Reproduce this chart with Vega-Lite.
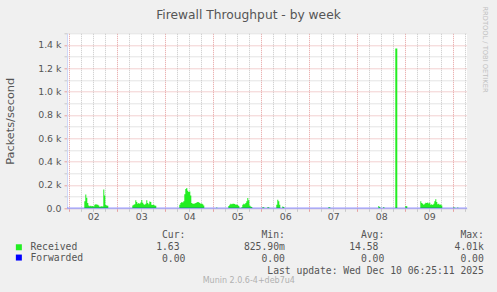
{
  "$schema": "https://vega.github.io/schema/vega-lite/v6.json",
  "background": "#f0f0f0",
  "autosize": {"type": "none"},
  "width": 400,
  "height": 175,
  "padding": {"left": 67, "top": 33.3, "right": 30, "bottom": 83.7},
  "title": {"text": "Munin 2.0.6-4+deb7u4", "orient": "bottom", "anchor": "middle", "frame": "group", "dx": -18.2, "offset": 2, "font": "DejaVu Sans", "fontSize": 8, "fontWeight": "normal", "color": "#b0b0b0"},
  "config": {"view": {"stroke": null, "fill": "#ffffff"}, "font": "DejaVu Sans"},
  "resolve": {"axis": {"x": "independent", "y": "independent"}},
  "datasets": {
    "series": [
      {"s":"Received","h":-1.5,"v":1.5},
      {"s":"Received","h":7.5,"v":60},
      {"s":"Received","h":8,"v":118},
      {"s":"Received","h":8.5,"v":90},
      {"s":"Received","h":9,"v":45},
      {"s":"Received","h":9.5,"v":25},
      {"s":"Received","h":10,"v":18},
      {"s":"Received","h":10.5,"v":22},
      {"s":"Received","h":11,"v":17},
      {"s":"Received","h":11.5,"v":20},
      {"s":"Received","h":12,"v":15},
      {"s":"Received","h":12.5,"v":30},
      {"s":"Received","h":13,"v":35},
      {"s":"Received","h":13.5,"v":33},
      {"s":"Received","h":14,"v":30},
      {"s":"Received","h":14.5,"v":25},
      {"s":"Received","h":15,"v":14},
      {"s":"Received","h":15.5,"v":16},
      {"s":"Received","h":16,"v":18},
      {"s":"Received","h":16.5,"v":15},
      {"s":"Received","h":17,"v":161},
      {"s":"Received","h":17.5,"v":110},
      {"s":"Received","h":18,"v":28},
      {"s":"Received","h":18.5,"v":24},
      {"s":"Received","h":19,"v":22},
      {"s":"Received","h":19.5,"v":1.5},
      {"s":"Received","h":31.5,"v":25},
      {"s":"Received","h":32,"v":30},
      {"s":"Received","h":32.5,"v":35},
      {"s":"Received","h":33,"v":70},
      {"s":"Received","h":33.5,"v":55},
      {"s":"Received","h":34,"v":40},
      {"s":"Received","h":34.5,"v":45},
      {"s":"Received","h":35,"v":38},
      {"s":"Received","h":35.5,"v":50},
      {"s":"Received","h":36,"v":72},
      {"s":"Received","h":36.5,"v":48},
      {"s":"Received","h":37,"v":35},
      {"s":"Received","h":37.5,"v":30},
      {"s":"Received","h":38,"v":40},
      {"s":"Received","h":38.5,"v":68},
      {"s":"Received","h":39,"v":45},
      {"s":"Received","h":39.5,"v":35},
      {"s":"Received","h":40,"v":58},
      {"s":"Received","h":40.5,"v":55},
      {"s":"Received","h":41,"v":30},
      {"s":"Received","h":41.5,"v":28},
      {"s":"Received","h":42,"v":30},
      {"s":"Received","h":42.5,"v":25},
      {"s":"Received","h":43,"v":22},
      {"s":"Received","h":43.5,"v":1.5},
      {"s":"Received","h":55,"v":30},
      {"s":"Received","h":55.5,"v":45},
      {"s":"Received","h":56,"v":55},
      {"s":"Received","h":56.5,"v":50},
      {"s":"Received","h":57,"v":60},
      {"s":"Received","h":57.5,"v":120},
      {"s":"Received","h":58,"v":165},
      {"s":"Received","h":58.5,"v":175},
      {"s":"Received","h":59,"v":150},
      {"s":"Received","h":59.5,"v":140},
      {"s":"Received","h":60,"v":145},
      {"s":"Received","h":60.5,"v":110},
      {"s":"Received","h":61,"v":45},
      {"s":"Received","h":61.5,"v":40},
      {"s":"Received","h":62,"v":38},
      {"s":"Received","h":62.5,"v":42},
      {"s":"Received","h":63,"v":45},
      {"s":"Received","h":63.5,"v":50},
      {"s":"Received","h":64,"v":55},
      {"s":"Received","h":64.5,"v":52},
      {"s":"Received","h":65,"v":45},
      {"s":"Received","h":65.5,"v":40},
      {"s":"Received","h":66,"v":42},
      {"s":"Received","h":66.5,"v":35},
      {"s":"Received","h":67,"v":25},
      {"s":"Received","h":67.5,"v":1.5},
      {"s":"Received","h":73.5,"v":6},
      {"s":"Received","h":74,"v":1.5},
      {"s":"Received","h":79.5,"v":20},
      {"s":"Received","h":80,"v":30},
      {"s":"Received","h":80.5,"v":38},
      {"s":"Received","h":81,"v":35},
      {"s":"Received","h":81.5,"v":40},
      {"s":"Received","h":82,"v":38},
      {"s":"Received","h":82.5,"v":36},
      {"s":"Received","h":83,"v":30},
      {"s":"Received","h":83.5,"v":32},
      {"s":"Received","h":84,"v":28},
      {"s":"Received","h":84.5,"v":20},
      {"s":"Received","h":85,"v":5},
      {"s":"Received","h":85.5,"v":3},
      {"s":"Received","h":86,"v":10},
      {"s":"Received","h":86.5,"v":30},
      {"s":"Received","h":87,"v":40},
      {"s":"Received","h":87.5,"v":35},
      {"s":"Received","h":88,"v":45},
      {"s":"Received","h":88.5,"v":60},
      {"s":"Received","h":89,"v":88},
      {"s":"Received","h":89.5,"v":70},
      {"s":"Received","h":90,"v":25},
      {"s":"Received","h":90.5,"v":15},
      {"s":"Received","h":91,"v":12},
      {"s":"Received","h":91.5,"v":1.5},
      {"s":"Received","h":96.5,"v":8},
      {"s":"Received","h":97,"v":10},
      {"s":"Received","h":97.5,"v":1.5},
      {"s":"Received","h":99,"v":8},
      {"s":"Received","h":99.5,"v":10},
      {"s":"Received","h":100,"v":1.5},
      {"s":"Received","h":103.5,"v":30},
      {"s":"Received","h":104,"v":73},
      {"s":"Received","h":104.5,"v":60},
      {"s":"Received","h":105,"v":30},
      {"s":"Received","h":105.5,"v":1.5},
      {"s":"Received","h":106.5,"v":15},
      {"s":"Received","h":107,"v":12},
      {"s":"Received","h":107.5,"v":1.5},
      {"s":"Received","h":129.5,"v":10},
      {"s":"Received","h":130,"v":8},
      {"s":"Received","h":130.5,"v":1.5},
      {"s":"Received","h":154.5,"v":19},
      {"s":"Received","h":155,"v":12},
      {"s":"Received","h":155.5,"v":1.5},
      {"s":"Received","h":157,"v":12},
      {"s":"Received","h":157.5,"v":1.5},
      {"s":"Received","h":163,"v":1370},
      {"s":"Received","h":163.5,"v":1370},
      {"s":"Received","h":164,"v":1.5},
      {"s":"Received","h":168,"v":20},
      {"s":"Received","h":168.5,"v":18},
      {"s":"Received","h":169,"v":1.5},
      {"s":"Received","h":175.5,"v":60},
      {"s":"Received","h":176,"v":45},
      {"s":"Received","h":176.5,"v":40},
      {"s":"Received","h":177,"v":30},
      {"s":"Received","h":177.5,"v":38},
      {"s":"Received","h":178,"v":48},
      {"s":"Received","h":178.5,"v":45},
      {"s":"Received","h":179,"v":50},
      {"s":"Received","h":179.5,"v":42},
      {"s":"Received","h":180,"v":48},
      {"s":"Received","h":180.5,"v":30},
      {"s":"Received","h":181,"v":35},
      {"s":"Received","h":181.5,"v":28},
      {"s":"Received","h":182,"v":40},
      {"s":"Received","h":182.5,"v":60},
      {"s":"Received","h":183,"v":78},
      {"s":"Received","h":183.5,"v":55},
      {"s":"Received","h":184,"v":35},
      {"s":"Received","h":184.5,"v":38},
      {"s":"Received","h":185,"v":30},
      {"s":"Received","h":185.5,"v":32},
      {"s":"Received","h":186,"v":25},
      {"s":"Received","h":186.5,"v":1.5},
      {"s":"Received","h":192,"v":8},
      {"s":"Received","h":192.5,"v":5},
      {"s":"Received","h":193,"v":1.5},
      {"s":"Received","h":194,"v":6},
      {"s":"Received","h":194.5,"v":1.5},
      {"s":"Received","h":198.5,"v":1.63},
      {"s":"Received","h":199,"v":1.63},
      {"s":"Forwarded","h":-1.5,"v":0},
      {"s":"Forwarded","h":199,"v":0}
    ]
  },
  "data": {"name": "series"},
  "layer": [
    {
      "transform": [{"filter": "datum.s === 'Received'"}],
      "mark": {"type": "area", "interpolate": "step-after", "clip": true, "opacity": 1},
      "encoding": {
        "x": {
          "field": "h", "type": "quantitative",
          "scale": {"domain": [-1.15, 198.85], "nice": false, "zero": false},
          "axis": {
            "orient": "bottom",
            "values": [0, 6, 12, 18, 24, 30, 36, 42, 48, 54, 60, 66, 72, 78, 84, 90, 96, 102, 108, 114, 120, 126, 132, 138, 144, 150, 156, 162, 168, 174, 180, 186, 192, 198],
            "labelExpr": "datum.value % 24 === 12 ? '0' + (2 + floor(datum.value / 24)) : ''",
            "labelOverlap": false, "labelFlush": false, "labelBound": false,
            "labelFont": "DejaVu Sans", "labelFontSize": 9.4, "labelColor": "#555555", "labelPadding": 1,
            "grid": true,
            "gridColor": {"condition": {"test": "datum.value % 24 === 0", "value": "#e6a0a0"}, "value": "#c8c8c8"},
            "gridDash": [1, 1],
            "tickColor": {"condition": {"test": "datum.value % 24 === 0", "value": "#e6a0a0"}, "value": "#c8c8c8"},
            "tickSize": 3,
            "domainColor": "#cfd6f8",
            "title": [
              "Cur:\u00a0\u00a0\u00a0\u00a0\u00a0\u00a0\u00a0\u00a0\u00a0\u00a0\u00a0\u00a0\u00a0Min:\u00a0\u00a0\u00a0\u00a0\u00a0\u00a0\u00a0\u00a0\u00a0\u00a0\u00a0\u00a0\u00a0Avg:\u00a0\u00a0\u00a0\u00a0\u00a0\u00a0\u00a0\u00a0\u00a0\u00a0\u00a0\u00a0\u00a0Max:\u00a0\u00a0",
              "1.63\u00a0\u00a0\u00a0\u00a0\u00a0\u00a0\u00a0\u00a0\u00a0\u00a0\u00a0825.90m\u00a0\u00a0\u00a0\u00a0\u00a0\u00a0\u00a0\u00a0\u00a0\u00a0\u00a014.58\u00a0\u00a0\u00a0\u00a0\u00a0\u00a0\u00a0\u00a0\u00a0\u00a0\u00a0\u00a0\u00a04.01k",
              "0.00\u00a0\u00a0\u00a0\u00a0\u00a0\u00a0\u00a0\u00a0\u00a0\u00a0\u00a0\u00a0\u00a00.00\u00a0\u00a0\u00a0\u00a0\u00a0\u00a0\u00a0\u00a0\u00a0\u00a0\u00a0\u00a0\u00a00.00\u00a0\u00a0\u00a0\u00a0\u00a0\u00a0\u00a0\u00a0\u00a0\u00a0\u00a0\u00a0\u00a00.00\u00a0",
              "Last update: Wed Dec 10 06:25:11 2025"
            ],
            "titleFont": "DejaVu Sans Mono", "titleFontSize": 9.72, "titleFontWeight": "normal", "titleColor": "#555555",
            "titleAlign": "right", "titleBaseline": "alphabetic", "titleLineHeight": 12, "titleX": 416.3, "titleY": 29.3
          }
        },
        "y": {
          "field": "v", "type": "quantitative",
          "scale": {"domain": [0, 1500], "nice": false},
          "axis": {
            "orient": "left",
            "title": "Packets/second",
            "titleFont": "DejaVu Sans", "titleFontSize": 11.3, "titleFontWeight": "normal", "titleColor": "#555555",
            "titleX": -56.2, "titleY": 87.5, "titleAlign": "center", "titleBaseline": "middle", "titleAngle": 270,
            "values": [0, 100, 200, 300, 400, 500, 600, 700, 800, 900, 1000, 1100, 1200, 1300, 1400, 1500],
            "labelExpr": "datum.value % 200 === 0 ? (datum.value === 0 ? '0.0' : format(datum.value / 1000, '.1f') + ' k') : ''",
            "labelFont": "DejaVu Sans", "labelFontSize": 9.4, "labelColor": "#555555", "labelPadding": 3,
            "grid": true,
            "gridColor": {"condition": {"test": "datum.value % 200 === 0", "value": "#e6a0a0"}, "value": "#c8c8c8"},
            "gridDash": [1, 1],
            "tickColor": {"condition": {"test": "datum.value % 200 === 0", "value": "#e6a0a0"}, "value": "#c8c8c8"},
            "tickSize": 3,
            "domainColor": "#cfd6f8"
          }
        },
        "color": {
          "field": "s", "type": "nominal",
          "scale": {"domain": ["Received", "Forwarded"], "range": ["#22ee22", "#0000ff"]},
          "legend": {
            "orient": "none", "legendX": -53, "legendY": 209.1, "title": null, "direction": "vertical",
            "symbolType": "square", "symbolSize": 36, "symbolStrokeWidth": 0, "symbolOpacity": 1,
            "labelFont": "DejaVu Sans Mono", "labelFontSize": 9.72, "labelColor": "#555555",
            "labelOffset": 6.7, "rowPadding": -0.7, "padding": 0
          }
        }
      }
    },
    {
      "transform": [{"filter": "datum.s === 'Forwarded'"}],
      "mark": {"type": "line", "color": "#0000ff", "strokeWidth": 1, "clip": true},
      "encoding": {
        "x": {
          "field": "h", "type": "quantitative",
          "axis": {
            "orient": "top", "labels": false, "ticks": false, "domain": false, "grid": false,
            "title": "Firewall Throughput - by week",
            "titleFont": "DejaVu Sans", "titleFontSize": 12.25, "titleFontWeight": "normal", "titleColor": "#555555",
            "titleAlign": "center", "titleBaseline": "alphabetic", "titleX": 181, "titleY": -14.8
          }
        },
        "y": {
          "field": "v", "type": "quantitative",
          "axis": {
            "orient": "right", "labels": false, "ticks": false, "domain": false, "grid": false,
            "title": "RRDTOOL / TOBI OETIKER",
            "titleFont": "DejaVu Sans", "titleFontSize": 6.7, "titleFontWeight": "normal", "titleColor": "#c0c0c0",
            "titleAngle": 90, "titleAlign": "center", "titleBaseline": "middle", "titleX": 17, "titleY": 15.7
          }
        }
      }
    }
  ]
}
